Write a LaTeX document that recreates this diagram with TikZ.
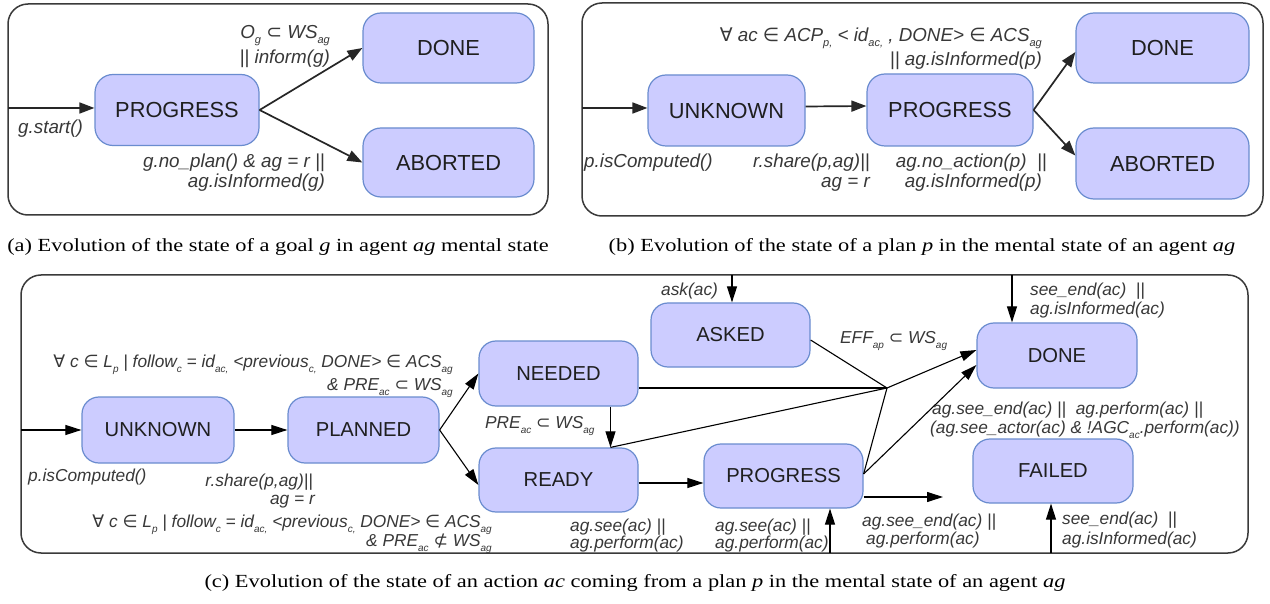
\documentclass[tikz,border=0pt]{standalone}
\usepackage{fontspec}
\usepackage{graphicx}
\setmainfont{Liberation Serif}
\newfontfamily\arialf{Liberation Sans}
\newfontfamily\dejavuf{DejaVu Sans}
\usetikzlibrary{arrows.meta}
\definecolor{stfill}{HTML}{CCCCFF}
\definecolor{stborder}{HTML}{6A8CCF}
\definecolor{labcol}{HTML}{383838}
\definecolor{framecol}{HTML}{3A3A3A}
\newcommand{\sym}[1]{{\dejavuf\upshape #1}}
\newcommand{\sbs}[1]{\raisebox{-5pt}{\fontsize{11}{11}\selectfont #1}}
\newcommand{\sbc}[1]{\raisebox{-5pt}{\fontsize{10}{10}\selectfont #1}}
\newcommand{\capwide}[1]{\scalebox{1.21}[1]{#1}}
\tikzset{
  stnode/.style={draw=stborder, fill=stfill, rounded corners=18pt, line width=1.2pt,
    font=\arialf\fontsize{21.8}{21.8}\selectfont, text=black!88, inner sep=0pt},
  stc/.style={stnode, font=\arialf\fontsize{20.2}{20.2}\selectfont, rounded corners=17pt},
  elab/.style={font=\arialf\itshape\fontsize{18.8}{21}\selectfont, text=labcol, inner sep=0pt},
  elabc/.style={font=\arialf\itshape\fontsize{17.3}{19}\selectfont, text=labcol, inner sep=0pt},
  pframe/.style={draw=framecol, line width=1.5pt, rounded corners=20pt},
  arr/.style={-{Triangle[length=15pt,width=11pt]}, line width=1.7pt, draw=black!85},
  arrc/.style={-{Triangle[length=16pt,width=10pt]}, line width=1.1pt, draw=black},
  plainc/.style={line width=1.1pt, draw=black},
  captext/.style={font=\fontsize{18.5}{22}\selectfont, inner sep=0pt}
}
\begin{document}
\begin{tikzpicture}[x=1pt,y=-1pt]
\useasboundingbox (0,0) rectangle (1270,604);
\fill[white] (0,0) rectangle (1270,604);

% ---------------- panel (a)
\draw[pframe] (8,4) rectangle (548,215);
\node[stnode, minimum width=164pt, minimum height=71pt] (aP) at (177,110) {PROGRESS};
\node[stnode, minimum width=171pt, minimum height=70pt] (aD) at (448.5,48) {DONE};
\node[stnode, minimum width=171pt, minimum height=69pt] (aA) at (448.5,162.5) {ABORTED};
\coordinate (aIn) at (8,108);
\draw[arr] (aIn) -- (aIn -| aP.west);
\draw[arr] (aP.east) -- (aD.west);
\draw[arr] (aP.east) -- (aA.west);
\node[elab, anchor=base west] (la1) at (18,134) {g.start()};
\node[elab, anchor=base east] (la2) at (330,39) {O\sbs{g} \sym{⊂} WS\sbs{ag}};
\node[elab, anchor=base east] (la3) at (330,64) {|| inform(g)};
\node[elab, anchor=base east] (la4) at (325,168) {g.no\_plan() \& ag = r ||};
\node[elab, anchor=base east] (la5) at (325,188) {ag.isInformed(g)};

% ---------------- panel (b)
\draw[pframe] (582,3) rectangle (1263,216);
\node[stnode, minimum width=157pt, minimum height=71pt] (bU) at (726.5,110.5) {UNKNOWN};
\node[stnode, minimum width=166pt, minimum height=72pt] (bP) at (950,110) {PROGRESS};
\node[stnode, minimum width=173pt, minimum height=70pt] (bD) at (1162.5,48) {DONE};
\node[stnode, minimum width=173pt, minimum height=71pt] (bA) at (1162.5,163.5) {ABORTED};
\coordinate (bIn) at (582,108);
\draw[arr] (bIn) -- (bIn -| bU.west);
\draw[arr] ([yshift=4pt]bU.east) -- ([yshift=4pt]bP.west);
\draw[arr] (bP.east) -- ([yshift=-4pt]bD.west);
\draw[arr] (bP.east) -- ([yshift=8pt]bA.west);
\node[elab, anchor=base west] (lb1) at (584,168) {p.isComputed()};
\node[elab, anchor=base east] (lb2) at (870,168) {r.share(p,ag)||};
\node[elab, anchor=base east] (lb3) at (870,188) {ag = r};
\node[elab, anchor=base east] (lb4) at (1042,42) {\sym{∀} ac \sym{∈} ACP\sbs{p,} < id\sbs{ac,} , DONE> \sym{∈} ACS\sbs{ag}};
\node[elab, anchor=base east] (lb5) at (1042,66) {|| ag.isInformed(p)};
\node[elab, anchor=base east] (lb6) at (1047,168) {ag.no\_action(p) \ ||};
\node[elab, anchor=base east] (lb7) at (1042,188) {ag.isInformed(p)};

% ---------------- panel (c)
\draw[pframe] (21,275) rectangle (1248,553);
\node[stc, minimum width=152pt, minimum height=66pt] (cU) at (158,430) {UNKNOWN};
\node[stc, minimum width=151pt, minimum height=66pt] (cPl) at (363.5,430) {PLANNED};
\node[stc, minimum width=159pt, minimum height=65pt] (cN) at (558.5,373.5) {NEEDED};
\node[stc, minimum width=159pt, minimum height=64pt] (cR) at (558.5,480) {READY};
\node[stc, minimum width=159pt, minimum height=64pt] (cA) at (730.5,335) {ASKED};
\node[stc, minimum width=159pt, minimum height=64pt] (cPr) at (783.5,476) {PROGRESS};
\node[stc, minimum width=160pt, minimum height=65pt] (cD) at (1057,355.5) {DONE};
\node[stc, minimum width=160pt, minimum height=64pt] (cF) at (1053,471) {FAILED};

\coordinate (cIn) at (21,430);
\coordinate (J) at (887,388);
\coordinate (cOut) at (943,497);
\coordinate (askTop) at (732,275);
\coordinate (doneTop) at (1012,275);
\coordinate (prBot) at (830,553);
\coordinate (fBot) at (1051,553);

\draw[arrc] (cIn) -- (cU.west);
\draw[arrc] (cU.east) -- (cPl.west);
\draw[arrc] (cPl.east) -- (cN.west);
\draw[arrc] (cPl.east) -- ([yshift=-5pt]cR.west);
\draw[arrc] ([xshift=52pt]cN.south) -- ([xshift=52pt]cR.north);
\draw[plainc] ([yshift=-5pt]cA.east) -- (J);
\draw[plainc] (J -| cN.east) -- (J);
\draw[plainc] ([xshift=52pt]cR.north) -- (J);
\draw[plainc] ([yshift=2pt]cPr.east) -- (J);
\draw[arrc] (J) -- ([yshift=5.5pt]cD.west);
\draw[arrc] ([yshift=2pt]cPr.east) -- ([yshift=-9.5pt]cD.west);
\draw[arrc] (cOut -| cPr.east) -- (cOut);
\draw[arrc] ([yshift=-3pt]cR.east) -- ([yshift=-3pt]cR.east -| cPr.west);
\draw[arrc] (askTop) -- (askTop |- cA.north);
\draw[arrc] (doneTop) -- (doneTop |- cD.north);
\draw[arrc] (prBot) -- (prBot |- cPr.south);
\draw[arrc] (fBot) -- (fBot |- cF.south);

\node[elabc, anchor=base east] (lc1) at (453,367) {\sym{∀} c \sym{∈} L\sbc{p} | follow\sbc{c} = id\sbc{ac,} <previous\sbc{c,} DONE> \sym{∈} ACS\sbc{ag}};
\node[elabc, anchor=base east] (lc2) at (453,390) {\& PRE\sbc{ac} \sym{⊂} WS\sbc{ag}};
\node[elabc, anchor=base west] (lc3) at (28,481) {p.isComputed()};
\node[elabc, anchor=base east] (lc4) at (313,486) {r.share(p,ag)||};
\node[elabc, anchor=base east] (lc5) at (315,504) {ag = r};
\node[elabc, anchor=base east] (lc6) at (492,527) {\sym{∀} c \sym{∈} L\sbc{p} | follow\sbc{c} = id\sbc{ac,} <previous\sbc{c,} DONE> \sym{∈} ACS\sbc{ag}};
\node[elabc, anchor=base east] (lc7) at (492,546) {\& PRE\sbc{ac} \sym{⊄} WS\sbc{ag}};
\node[elabc, anchor=base west] (lc8) at (485,428) {PRE\sbc{ac} \sym{⊂} WS\sbc{ag}};
\node[elabc, anchor=base west] (lc9) at (570,531) {ag.see(ac) ||};
\node[elabc, anchor=base west] (lc10) at (570,548) {ag.perform(ac)};
\node[elabc, anchor=base west] (lc11) at (715,531) {ag.see(ac) ||};
\node[elabc, anchor=base west] (lc12) at (715,548) {ag.perform(ac)};
\node[elabc, anchor=base west] (lc13) at (661,295) {ask(ac)};
\node[elabc, anchor=base west] (lc14) at (840,344) {EFF\sbc{ap} \sym{⊂} WS\sbc{ag}};
\node[elabc, anchor=base west] (lc15) at (1030,295) {see\_end(ac) \ ||};
\node[elabc, anchor=base west] (lc16) at (1030,315) {ag.isInformed(ac)};
\node[elabc, anchor=base west] (lc17) at (932,414) {ag.see\_end(ac) || \ ag.perform(ac) ||};
\node[elabc, anchor=base west] (lc18) at (930,433) {(ag.see\_actor(ac) \& !AGC\sbc{ac}.perform(ac))};
\node[elabc, anchor=base west] (lc19) at (862,526) {ag.see\_end(ac) ||};
\node[elabc, anchor=base west] (lc20) at (866,544) {ag.perform(ac)};
\node[elabc, anchor=base west] (lc21) at (1062,524) {see\_end(ac) \ ||};
\node[elabc, anchor=base west] (lc22) at (1062,544) {ag.isInformed(ac)};

% ---------------- captions
\node[captext] (capa) at (278,247) {\capwide{(a) Evolution of the state of a goal \textit{g} in agent \textit{ag} mental state}};
\node[captext] (capb) at (922,247) {\capwide{(b) Evolution of the state of a plan \textit{p} in the mental state of an agent \textit{ag}}};
\node[captext] (capc) at (635,583) {\capwide{(c) Evolution of the state of an action \textit{ac} coming from a plan \textit{p} in the mental state of an agent \textit{ag}}};
\end{tikzpicture}
\end{document}
